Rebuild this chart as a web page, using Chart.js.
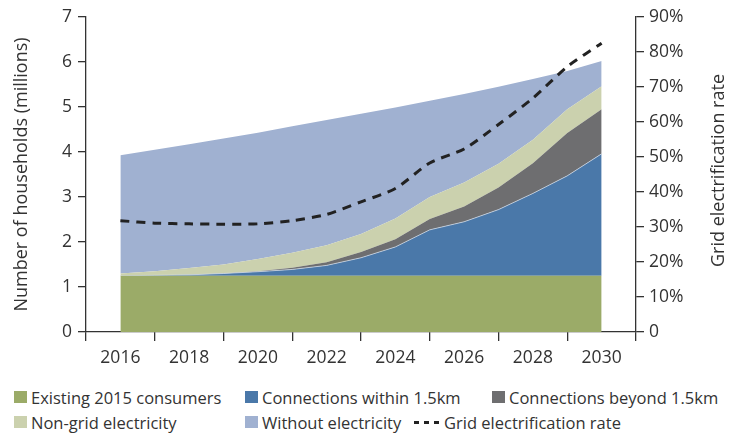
<!DOCTYPE html>
<html>
<head>
<meta charset="utf-8">
<script src="https://cdn.jsdelivr.net/npm/chart.js@4"></script>
<style>
  body { margin: 0; background: #fff; font-family: "Open Sans", sans-serif; color: #333; }
  #wrap { position: relative; width: 737px; height: 384px; }
  #legend { position: relative; width: 737px; height: 49px; font-size: 16.5px; }
  .item { position: absolute; display: flex; align-items: center; white-space: nowrap; height: 20px; }
  .swatch { width: 13px; height: 12px; margin-right: 4px; }
  .dash { display: inline-block; width: 5px; height: 3px; background: #222; margin-right: 5px; }
</style>
</head>
<body>
<div id="wrap"><canvas id="chart"></canvas></div>
<div id="legend"></div>
<script>
const years = [2016, 2017, 2018, 2019, 2020, 2021, 2022, 2023, 2024, 2025, 2026, 2027, 2028, 2029, 2030];
const existing = [1.25, 1.25, 1.25, 1.25, 1.25, 1.25, 1.25, 1.25, 1.25, 1.25, 1.25, 1.25, 1.25, 1.25, 1.25];
const within = [0.00, 0.01, 0.02, 0.05, 0.09, 0.14, 0.23, 0.40, 0.64, 1.02, 1.20, 1.47, 1.83, 2.22, 2.71];
const beyond = [0.00, 0.00, 0.00, 0.00, 0.01, 0.04, 0.07, 0.13, 0.17, 0.24, 0.34, 0.49, 0.67, 0.95, 0.99];
const nonGrid = [0.05, 0.09, 0.15, 0.20, 0.27, 0.33, 0.38, 0.40, 0.46, 0.49, 0.53, 0.53, 0.52, 0.53, 0.51];
const without = [2.63, 2.70, 2.75, 2.80, 2.81, 2.81, 2.78, 2.67, 2.47, 2.14, 1.97, 1.71, 1.35, 0.85, 0.56];
const gridRate = [31.8, 31.1, 30.9, 30.8, 30.9, 31.8, 33.6, 37.2, 41.0, 48.3, 52.3, 59.3, 66.8, 75.8, 82.5];

const seriesNames = ["Existing 2015 consumers", "Connections within 1.5km", "Connections beyond 1.5km",
  "Non-grid electricity", "Without electricity"];
const seriesColors = ["#9bab68", "#4a78a9", "#6e6e70", "#cbd1ae", "#a0b1d1"];
const rateName = "Grid electrification rate";

const textColor = "#333";
const axisColor = "#333";
const font = { family: "'Open Sans', sans-serif", size: 17.5 };
const titleFont = { family: "'Open Sans', sans-serif", size: 18 };

function pts(arr) {
  return arr.map((v, i) => ({ x: years[i], y: v }));
}

const areaData = [existing, within, beyond, nonGrid, without];
const datasets = areaData.map((arr, i) => ({
  label: seriesNames[i],
  data: pts(arr),
  backgroundColor: seriesColors[i],
  borderColor: i === 1 ? "rgba(215,222,232,0.9)" : seriesColors[i],
  borderWidth: i === 1 ? 0.8 : 0,
  fill: i === 0 ? "origin" : "-1",
  pointRadius: 0,
  tension: 0,
  yAxisID: "y"
}));
datasets.push({
  label: rateName,
  data: pts(gridRate),
  borderColor: "#222",
  borderWidth: 3,
  borderDash: [9, 7],
  fill: false,
  pointRadius: 0,
  tension: 0.25,
  yAxisID: "y2",
  order: -1
});

// right axis title reads bottom-to-top, so draw it here
const rightTitle = {
  id: "rightTitle",
  afterDraw(chart) {
    const { ctx, chartArea } = chart;
    ctx.save();
    ctx.translate(719, (chartArea.top + chartArea.bottom) / 2 - 4);
    ctx.rotate(-Math.PI / 2);
    ctx.font = `${titleFont.size}px ${titleFont.family}`;
    ctx.fillStyle = textColor;
    ctx.textAlign = "center";
    ctx.textBaseline = "middle";
    ctx.fillText(rateName, 0, 0);
    ctx.restore();
  }
};

const chart = new Chart(document.getElementById("chart"), {
  type: "line",
  data: { datasets },
  plugins: [rightTitle],
  options: {
    responsive: true,
    maintainAspectRatio: false,
    animation: false,
    layout: { padding: { top: 17, left: 0, right: 0, bottom: 0 } },
    plugins: { legend: { display: false }, tooltip: { enabled: false } },
    scales: {
      x: {
        type: "linear",
        min: 2015,
        max: 2031,
        afterFit: s => { s.height = 52; },
        border: { color: axisColor, width: 1.3 },
        grid: {
          drawOnChartArea: false,
          tickLength: 9,
          color: c => (c.tick && c.tick.value % 2 === 1 ? axisColor : "rgba(0,0,0,0)"),
          lineWidth: 1.3
        },
        ticks: {
          stepSize: 1,
          autoSkip: false,
          maxRotation: 0,
          padding: 7,
          color: textColor,
          font,
          callback: v => (v % 2 === 0 ? String(v) : "")
        }
      },
      y: {
        position: "left",
        stacked: true,
        min: 0,
        max: 7,
        afterFit: s => { s.width = 86; },
        border: { color: axisColor, width: 1.3 },
        grid: { drawOnChartArea: false, tickLength: 8, color: axisColor, lineWidth: 1.3 },
        ticks: { stepSize: 1, padding: 6, color: textColor, font },
        title: {
          display: true,
          text: "Number of households (millions)",
          color: textColor,
          font: titleFont,
          padding: { top: 11, bottom: 0 }
        }
      },
      y2: {
        position: "right",
        min: 0,
        max: 90,
        afterFit: s => { s.width = 101; },
        border: { color: axisColor, width: 1.3 },
        grid: { drawOnChartArea: false, tickLength: 8, color: axisColor, lineWidth: 1.3 },
        ticks: {
          stepSize: 10,
          padding: 5,
          color: textColor,
          font,
          callback: v => (v === 0 ? "0" : v + "%")
        }
      }
    }
  }
});

// legend laid out in a 3-column grid like the original
const legendPos = [[14, 3], [245, 3], [492, 3], [14, 28], [245, 28], [414, 28]];
const legend = document.getElementById("legend");
chart.data.datasets.forEach((ds, i) => {
  const item = document.createElement("div");
  item.className = "item";
  item.style.left = legendPos[i][0] + "px";
  item.style.top = legendPos[i][1] + "px";
  if (ds.fill === false) {
    for (let k = 0; k < 3; k++) {
      const d = document.createElement("span");
      d.className = "dash";
      item.appendChild(d);
    }
  } else {
    const mark = document.createElement("span");
    mark.className = "swatch";
    mark.style.background = ds.backgroundColor;
    item.appendChild(mark);
  }
  const label = document.createElement("span");
  label.textContent = ds.label;
  item.appendChild(label);
  legend.appendChild(item);
});
</script>
</body>
</html>
